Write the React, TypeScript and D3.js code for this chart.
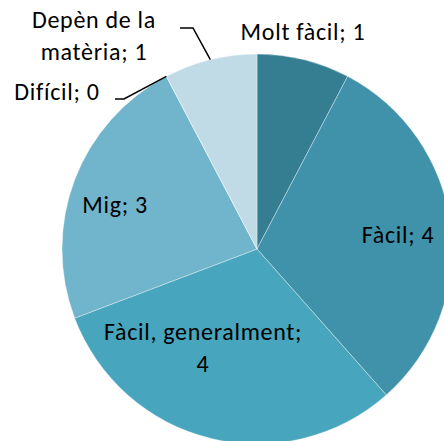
import React from 'react';
import * as d3 from 'd3';

const categories = ['Molt fàcil', 'Fàcil', 'Fàcil, generalment', 'Mig', 'Difícil', 'Depèn de la matèria'];
const values = [1, 4, 4, 3, 0, 1];
const colors = ['#357e92', '#3f92a9', '#47a5bd', '#70b5cb', '#5a9fb5', '#c0dbe5'];

// label layout (text lines, anchor x, first baseline y, leader elbow)
const labelLines = [
  ['Molt fàcil; 1'],
  ['Fàcil; 4'],
  ['Fàcil, generalment;', '4'],
  ['Mig; 3'],
  ['Difícil; 0'],
  ['Depèn de la', 'matèria; 1'],
];
const labelPos = [
  { x: 303, y: 40 },
  { x: 398, y: 243 },
  { x: 203, y: 340 },
  { x: 115, y: 213 },
  { x: 57, y: 100 },
  { x: 94, y: 28 },
];
const leaders: ({ start: [number, number]; elbow: [number, number] } | null)[] = [
  null,
  null,
  null,
  null,
  { start: [115, 99], elbow: [124, 99] },
  { start: [180, 28], elbow: [193, 28] },
];

const W = 444;
const H = 441;
const cx = 257;
const cy = 249;
const R = 195;

export default function App() {
  const pie = d3.pie<number>().sort(null).value((d) => d);
  const arcs = pie(values);
  const arc = d3.arc<d3.PieArcDatum<number>>().innerRadius(0).outerRadius(R);

  const edgePoint = (a: d3.PieArcDatum<number>): [number, number] => {
    const m = (a.startAngle + a.endAngle) / 2;
    return [cx + R * Math.sin(m), cy - R * Math.cos(m)];
  };

  return (
    <svg
      width={W}
      height={H}
      style={{ position: 'absolute', left: 0, top: 0, background: '#fff' }}
      fontFamily="Carlito, Calibri, Lato, sans-serif"
    >
      <g transform={`translate(${cx},${cy})`}>
        {arcs.map((a, i) => (
          <path
            key={categories[i]}
            d={arc(a) || ''}
            fill={colors[i]}
            stroke="#ffffff"
            strokeOpacity={0.45}
            strokeWidth={0.8}
          />
        ))}
      </g>
      {arcs.map((a, i) => {
        const l = leaders[i];
        if (!l) return null;
        const e = edgePoint(a);
        return (
          <polyline
            key={'ld' + i}
            points={`${l.start[0]},${l.start[1]} ${l.elbow[0]},${l.elbow[1]} ${e[0]},${e[1]}`}
            fill="none"
            stroke="#000"
            strokeWidth={1.5}
          />
        );
      })}
      {labelLines.map((lines, i) => (
        <text
          key={'lb' + i}
          x={labelPos[i].x}
          y={labelPos[i].y}
          textAnchor="middle"
          fontSize={24}
          letterSpacing={0.7}
          fill="#000"
        >
          {lines.map((t, j) => (
            <tspan key={j} x={labelPos[i].x} dy={j === 0 ? 0 : 32}>
              {t}
            </tspan>
          ))}
        </text>
      ))}
    </svg>
  );
}
